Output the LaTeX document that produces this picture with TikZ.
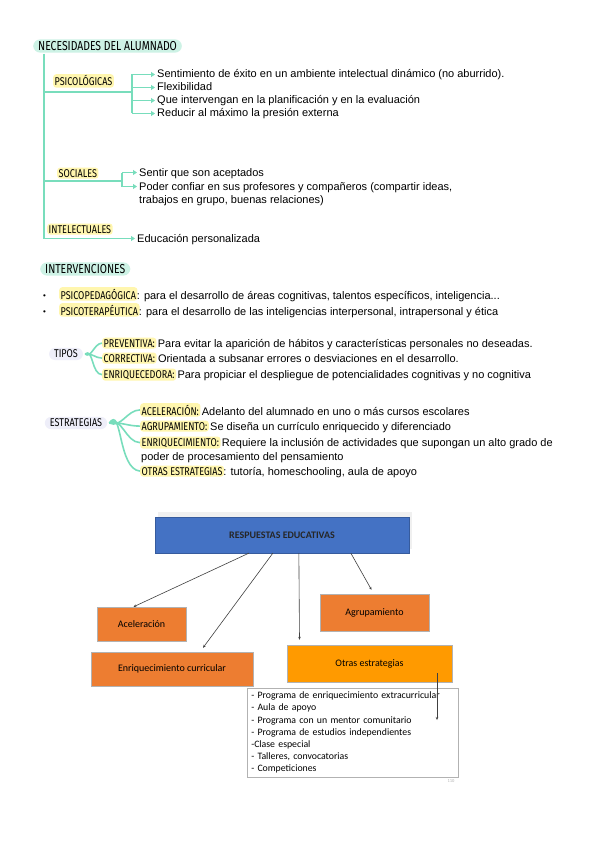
\documentclass[tikz,border=0pt]{standalone}
\usepackage{fontspec}
\setmainfont{Liberation Sans}
\newfontfamily\handfam[FakeStretch=0.8]{Fira Sans}
\newfontfamily\titlefam[FakeStretch=0.8]{Fira Sans}
\newfontfamily\calfam{Carlito}
\usetikzlibrary{arrows.meta,calc}
\definecolor{mint}{HTML}{CDF2E5}
\definecolor{tealline}{HTML}{78DDBC}
\definecolor{hlyel}{HTML}{FFF6AE}
\definecolor{lav}{HTML}{EEEEF9}
\definecolor{boxblue}{HTML}{4472C4}
\definecolor{orA}{HTML}{ED7D31}
\definecolor{orB}{HTML}{FF9A00}
\definecolor{arrgray}{HTML}{404040}
\newcommand{\bodyfont}{\fontsize{11}{13}\selectfont}
\newcommand{\handfont}{\handfam\fontsize{11.3}{13}\selectfont}
\newcommand{\titlefont}{\titlefam\fontsize{13}{15}\selectfont}
\begin{document}
\begin{tikzpicture}[x=1pt,y=-1pt,
  body/.style={font=\bodyfont, anchor=base west, inner sep=0pt},
  hl/.style={font=\handfont, fill=hlyel, rounded corners=3pt, inner xsep=1.5pt, inner ysep=1.5pt, anchor=base west},
  pill/.style={font=\titlefont, fill=mint, rounded corners=7pt, inner xsep=5pt, inner ysep=2pt, anchor=west},
  lavpill/.style={font=\handfont, fill=lav, rounded corners=6pt, inner xsep=5pt, inner ysep=2pt},
  br/.style={draw=tealline, line width=1.8pt},
  arr/.style={br, -{Triangle[length=4pt,width=5pt]}, shorten >=2pt},
  fan/.style={draw=tealline, line width=1.6pt},
  obox/.style={draw=gray!60, line width=0.4pt, font=\calfam\fontsize{10}{12}\selectfont},
  darr/.style={draw=arrgray, line width=0.6pt, -{Stealth[length=3pt,width=2.5pt]}}
]
\useasboundingbox (0,0) rectangle (599,848);
\fill[white] (0,0) rectangle (599,848);

% ---------- NECESIDADES ----------
\node[pill] (nec) at (33,46) {NECESIDADES DEL ALUMNADO};
\coordinate (v0) at (44,54);
\coordinate (v1) at (44,238);

\node[hl] (psi) at (53,86) {PSICOLÓGICAS};
\node[body] (p1) at (157,78) {Sentimiento de éxito en un ambiente intelectual dinámico (no aburrido).};
\node[body] (p2) at (157,91) {Flexibilidad};
\node[body] (p3) at (157,104) {Que intervengan en la planificación y en la evaluación};
\node[body] (p4) at (157,117) {Reducir al máximo la presión externa};
\coordinate (psiA) at (44,92);
\coordinate (psiB) at (132,92);

\node[hl] (soc) at (57,177) {SOCIALES};
\node[body] (s1) at (139,176) {Sentir que son aceptados};
\node[body] (s2) at (139,190) {Poder confiar en sus profesores y compañeros (compartir ideas,};
\node[body] (s3) at (139,203) {trabajos en grupo, buenas relaciones)};
\coordinate (socA) at (44,181);
\coordinate (socB) at (122,181);

\node[hl] (int) at (47,233) {INTELECTUALES};
\node[body] (i1) at (137,242) {Educación personalizada};

\foreach \n in {p1,p2,p3,p4,s1,s2,i1} \coordinate (\n a) at ([yshift=3.5pt]\n.base west);

\draw[br] (v0) -- (v1);
\draw[br] (psiA) -- (psiB);
\draw[br] (p1a -| psiB) -- (p4a -| psiB);
\foreach \n in {p1,p2,p3,p4} \draw[arr] (\n a -| psiB) -- (\n a);
\draw[br] (socA) -- (socB);
\draw[br] (s1a -| socB) -- (s2a -| socB);
\foreach \n in {s1,s2} \draw[arr] (\n a -| socB) -- (\n a);
\draw[arr] (v1) -- (i1a -| v1) -- (i1a);

% ---------- INTERVENCIONES ----------
\node[pill] (intv) at (40,269) {INTERVENCIONES};
\node[body,font=\fontsize{8}{10}\selectfont] (b1) at (43,298) {•};
\node[hl] (pp) at (59,299) {PSICOPEDAGÓGICA};
\node[body] (ppt) at ([xshift=-1pt]pp.base east) {: para el desarrollo de áreas cognitivas, talentos específicos, inteligencia...};
\node[body,font=\fontsize{8}{10}\selectfont] (b2) at (43,314) {•};
\node[hl] (pt) at (59,315) {PSICOTERAPÉUTICA};
\node[body] (ptt) at ([xshift=-1pt]pt.base east) {: para el desarrollo de las inteligencias interpersonal, intrapersonal y ética};

% ---------- TIPOS ----------
\node[lavpill] (tipos) at (66,354) {TIPOS};
\node[hl] (pv) at (102,347) {PREVENTIVA:};
\node[body] (pvt) at ([xshift=1pt]pv.base east) {Para evitar la aparición de hábitos y características personales no deseadas.};
\node[hl] (co) at (102,362) {CORRECTIVA:};
\node[body] (cot) at ([xshift=1pt]co.base east) {Orientada a subsanar errores o desviaciones en el desarrollo.};
\node[hl] (en) at (102,378) {ENRIQUECEDORA:};
\node[body] (ent) at ([xshift=1pt]en.base east) {Para propiciar el despliegue de potencialidades cognitivas y no cognitiva};
\coordinate (tfan) at ([xshift=2pt]tipos.east);
\draw[fan] (tfan) to[out=-40,in=180] (pv.west);
\draw[fan] (tfan) to[out=10,in=180] (co.west);
\draw[fan] (tfan) to[out=40,in=180] (en.west);

% ---------- ESTRATEGIAS ----------
\node[lavpill] (est) at (76,423) {ESTRATEGIAS};
\node[hl] (ac) at (140,415) {ACELERACIÓN:};
\node[body] (act) at ([xshift=1pt]ac.base east) {Adelanto del alumnado en uno o más cursos escolares};
\node[hl] (ag) at (140,430) {AGRUPAMIENTO:};
\node[body] (agt) at ([xshift=1pt]ag.base east) {Se diseña un currículo enriquecido y diferenciado};
\node[hl] (eq) at (140,446) {ENRIQUECIMIENTO:};
\node[body] (eqt) at ([xshift=1pt]eq.base east) {Requiere la inclusión de actividades que supongan un alto grado de};
\node[body] (eqt2) at (141,460) {poder de procesamiento del pensamiento};
\node[hl] (ot) at (140,475) {OTRAS ESTRATEGIAS};
\node[body] (ott) at ([xshift=-1pt]ot.base east) {: tutoría, homeschooling, aula de apoyo};
\coordinate (efan) at ([xshift=2pt]est.east);
\draw[fan] (efan) to[out=-25,in=180] (ac.west);
\draw[fan] (efan) to[out=5,in=180] (ag.west);
\draw[fan] (efan) to[out=35,in=180] (eq.west);
\draw[fan] (efan) to[out=55,in=175] (ot.west);

% ---------- DIAGRAM ----------
\fill[gray!12] (158,512) rectangle (412,549);
\node[fill=boxblue, draw=boxblue!80!black, line width=0.3pt, minimum width=254pt, minimum height=36pt, inner sep=0pt,
      font=\calfam\bfseries\fontsize{10}{12}\selectfont, text=black!85] (resp) at (282,535) {RESPUESTAS EDUCATIVAS};
\node[obox, fill=orA, minimum width=89pt, minimum height=34pt] (acel) at (141.5,624) {Aceleración};
\node[obox, fill=orA, minimum width=162pt, minimum height=34pt] (enr) at (172,669) {Enriquecimiento curricular};
\node[obox, fill=orA, minimum width=109pt, minimum height=37pt] (agr) at (374.5,612.5) {Agrupamiento};
\node[obox, fill=orB, minimum width=165pt, minimum height=37pt] (otr) at (369.5,663.5) {Otras estrategias};
\node[draw=gray!60, line width=0.5pt, anchor=north west, minimum width=211pt, minimum height=89pt,
      inner xsep=4pt, inner ysep=2pt, align=left, text width=203pt,
      font=\calfam\fontsize{9.8}{12.2}\selectfont] (lista) at (247,688)
  {- Programa de enriquecimiento extracurricular\\
   - Aula de apoyo\\
   - Programa con un mentor comunitario\\
   - Programa de estudios independientes\\
   -Clase especial\\
   - Talleres, convocatorias\\
   - Competiciones};
\node[font=\calfam\fontsize{4.5}{5}\selectfont, text=gray!60, inner sep=0pt] (pg) at (451,781) {110};

\coordinate (r1) at ($(resp.south west)+(94,0)$);
\coordinate (r2) at ($(resp.south west)+(118,0)$);
\coordinate (r3) at ($(resp.south west)+(144,0)$);
\coordinate (r4) at ($(resp.south west)+(196,0)$);
\draw[darr] (r1) -- ($(acel.north)+(-8,0)$);
\draw[darr] (r2) -- ($(enr.north)+(31,-4)$);
\draw[darr] (r3) -- ($(otr.north)+(-70,-5)$);
\draw[darr] (r4) -- ($(agr.north)+(-3,-4)$);
\coordinate (o1) at ($(otr.center)+(67.5,9.5)$);
\draw[darr] (o1) -- ($(lista.north west)+(190,32)$);
\end{tikzpicture}
\end{document}
